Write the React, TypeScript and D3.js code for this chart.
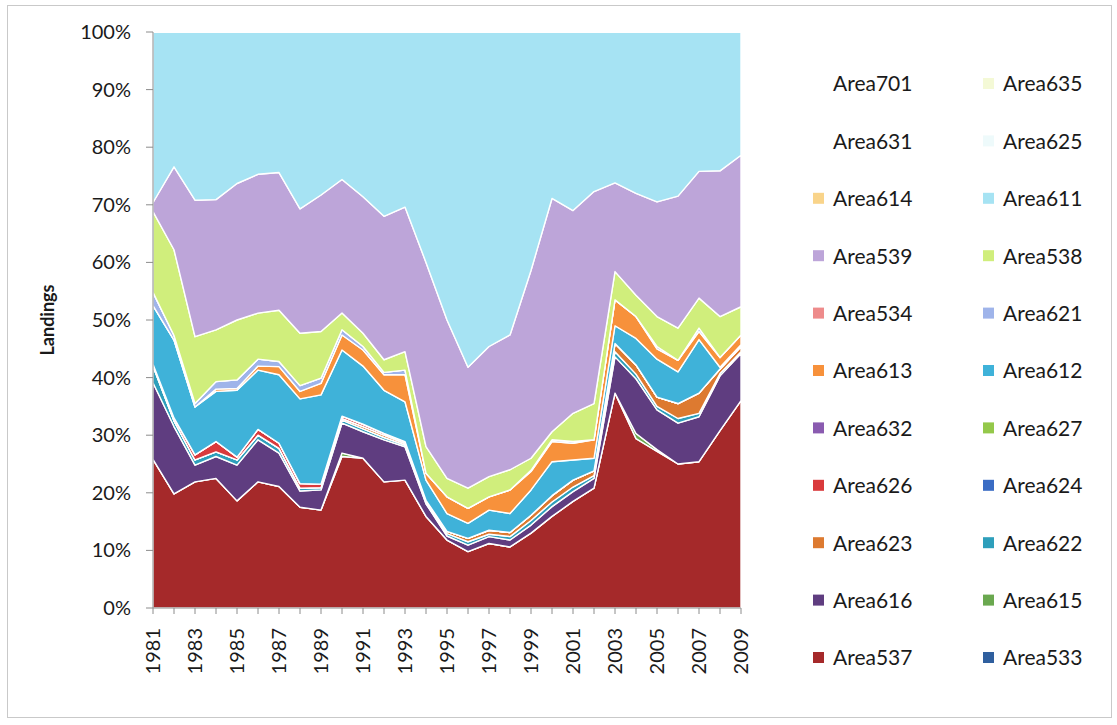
import React from "react";
import * as d3 from "d3";

// ---------- data (share of landings, %) ----------
const years = [1981, 1982, 1983, 1984, 1985, 1986, 1987, 1988, 1989, 1990, 1991, 1992, 1993, 1994, 1995, 1996, 1997, 1998, 1999, 2000, 2001, 2002, 2003, 2004, 2005, 2006, 2007, 2008, 2009];

const a533 = [0, 0, 0, 0, 0, 0, 0, 0, 0, 0, 0, 0, 0, 0, 0, 0, 0, 0, 0, 0, 0, 0, 0, 0, 0, 0, 0, 0, 0];
const a537 = [25.8, 19.8, 21.9, 22.5, 18.6, 21.9, 21.1, 17.5, 17.0, 26.3, 26.0, 21.9, 22.2, 15.9, 11.8, 9.8, 11.2, 10.6, 13.0, 15.9, 18.5, 20.8, 37.3, 29.4, 27.2, 25.0, 25.4, 30.8, 36.0];
const a615 = [0, 0, 0, 0, 0, 0, 0, 0, 0, 0.6, 0, 0, 0, 0, 0, 0, 0, 0, 0, 0, 0, 0, 0, 0.9, 0.3, 0, 0, 0, 0];
const a616 = [13.3, 11.7, 2.9, 3.8, 6.2, 7.3, 5.8, 2.8, 3.5, 5.2, 4.6, 7.3, 5.8, 2.2, 0.7, 1.1, 1.2, 1.2, 1.4, 1.7, 1.7, 1.7, 6.3, 9.5, 6.9, 7.1, 7.8, 9.5, 8.2];
const a622 = [2.9, 1.0, 0.9, 0.8, 0.9, 0.8, 0.8, 0.5, 0.4, 0.5, 0.5, 0.4, 0.3, 0.3, 0.4, 0.6, 0.4, 0.6, 0.8, 0.8, 0.8, 0.5, 0.9, 0.8, 0.6, 0.8, 0.6, 0.4, 0.3];
const a623 = [0, 0, 0, 0, 0, 0, 0, 0, 0, 0.3, 0.4, 0.4, 0.3, 0.3, 0.4, 0.6, 0.7, 0.7, 0.9, 1.1, 1.2, 0.8, 1.4, 1.6, 1.6, 2.6, 3.5, 0.8, 0.9];
const a624 = [0, 0, 0, 0, 0, 0, 0, 0, 0, 0, 0, 0, 0, 0, 0, 0, 0, 0, 0, 0, 0, 0, 0, 0, 0, 0, 0, 0, 0];
const a626 = [0.3, 0.5, 0.9, 1.8, 0.5, 1.0, 0.9, 0.8, 0.6, 0.4, 0.4, 0.3, 0.3, 0, 0, 0, 0, 0, 0, 0, 0, 0, 0, 0, 0, 0, 0, 0, 0];
const a627 = [0, 0, 0, 0, 0, 0, 0, 0, 0, 0, 0, 0, 0, 0, 0, 0, 0, 0, 0, 0, 0, 0, 0, 0, 0, 0, 0, 0, 0];
const a632 = [0, 0, 0, 0, 0, 0, 0, 0, 0, 0, 0, 0, 0, 0, 0, 0, 0, 0, 0, 0, 0, 0, 0, 0, 0, 0, 0, 0, 0];
const a612 = [10.2, 13.5, 8.3, 8.7, 11.6, 10.3, 11.9, 14.7, 15.5, 11.5, 10.1, 7.5, 6.9, 3.5, 3.1, 2.6, 3.5, 3.3, 4.4, 5.9, 3.5, 2.2, 3.1, 4.6, 6.6, 5.5, 9.3, 0.3, 0.3];
const a613 = [0, 0, 0, 0.4, 0.3, 0.7, 1.4, 1.3, 2.0, 2.6, 2.8, 2.7, 4.7, 1.2, 2.9, 2.6, 2.3, 4.1, 3.2, 3.5, 2.9, 3.2, 4.5, 3.8, 1.8, 2.0, 1.4, 1.7, 1.7];
const a621 = [2.3, 0.8, 0.6, 1.3, 1.5, 1.2, 0.9, 1.0, 0.9, 0.9, 0.6, 0.4, 0.8, 0, 0, 0, 0, 0, 0.2, 0.3, 0.3, 0, 0, 0, 0.4, 0, 0.6, 0, 0];
const a534 = [0, 0, 0, 0, 0, 0, 0, 0, 0, 0, 0, 0, 0, 0, 0, 0, 0, 0, 0, 0, 0, 0, 0, 0, 0, 0, 0, 0, 0];
const a538 = [14.0, 14.9, 11.6, 9.0, 10.4, 8.0, 8.9, 9.1, 8.1, 2.9, 2.3, 2.2, 3.2, 4.6, 3.2, 3.5, 3.5, 3.5, 2.1, 1.4, 4.9, 6.3, 4.9, 3.7, 5.2, 5.6, 5.2, 7.1, 4.9];
const a539 = [1.6, 14.4, 23.7, 22.6, 23.7, 24.1, 23.9, 21.6, 23.7, 23.2, 23.7, 24.9, 25.1, 32.0, 27.5, 21.0, 22.6, 23.4, 32.6, 40.5, 35.2, 36.8, 15.4, 17.7, 19.9, 22.9, 22.0, 25.3, 26.3];
const a611 = [29.6, 23.4, 29.2, 29.1, 26.3, 24.7, 24.4, 30.7, 28.3, 25.6, 28.6, 32.0, 30.4, 40.0, 50.0, 58.2, 54.6, 52.6, 41.4, 28.9, 31.0, 27.7, 26.2, 28.0, 29.5, 28.5, 24.2, 24.1, 21.4];
const a614 = [0, 0, 0, 0, 0, 0, 0, 0, 0, 0, 0, 0, 0, 0, 0, 0, 0, 0, 0, 0, 0, 0, 0, 0, 0, 0, 0, 0, 0];
const a625 = [0, 0, 0, 0, 0, 0, 0, 0, 0, 0, 0, 0, 0, 0, 0, 0, 0, 0, 0, 0, 0, 0, 0, 0, 0, 0, 0, 0, 0];
const a631 = [0, 0, 0, 0, 0, 0, 0, 0, 0, 0, 0, 0, 0, 0, 0, 0, 0, 0, 0, 0, 0, 0, 0, 0, 0, 0, 0, 0, 0];
const a635 = [0, 0, 0, 0, 0, 0, 0, 0, 0, 0, 0, 0, 0, 0, 0, 0, 0, 0, 0, 0, 0, 0, 0, 0, 0, 0, 0, 0, 0];
const a701 = [0, 0, 0, 0, 0, 0, 0, 0, 0, 0, 0, 0, 0, 0, 0, 0, 0, 0, 0, 0, 0, 0, 0, 0, 0, 0, 0, 0, 0];

// stacking order, bottom to top
const seriesNames = ["Area533", "Area537", "Area615", "Area616", "Area622", "Area623", "Area624", "Area626", "Area627", "Area632", "Area612", "Area613", "Area621", "Area534", "Area538", "Area539", "Area611", "Area614", "Area625", "Area631", "Area635", "Area701"];
const seriesValues = [a533, a537, a615, a616, a622, a623, a624, a626, a627, a632, a612, a613, a621, a534, a538, a539, a611, a614, a625, a631, a635, a701];
const seriesColors = ["#2f5f9e", "#a5292a", "#6aa84f", "#5f3d80", "#2e9fbb", "#dd7a30", "#3a6cc4", "#d93a3c", "#94c84a", "#8a5bb0", "#3fb2d9", "#f7913b", "#9fb4ea", "#ee8b8b", "#d0ee7c", "#bda5d9", "#a6e3f3", "#f9d48a", "#eefafb", "#ffffff", "#f4f9d6", "#ffffff"];

// legend (row-wise, two columns)
const legendOrder = ["Area701", "Area635", "Area631", "Area625", "Area614", "Area611", "Area539", "Area538", "Area534", "Area621", "Area613", "Area612", "Area632", "Area627", "Area626", "Area624", "Area623", "Area622", "Area616", "Area615", "Area537", "Area533"];

const yTickValues = [0, 0.1, 0.2, 0.3, 0.4, 0.5, 0.6, 0.7, 0.8, 0.9, 1];
const xLabelYears = [1981, 1983, 1985, 1987, 1989, 1991, 1993, 1995, 1997, 1999, 2001, 2003, 2005, 2007, 2009];

const FONT = "Lato, 'Open Sans', sans-serif";

export default function App() {
  const W = 1117, H = 725;
  const x = d3.scaleLinear().domain([1981, 2009]).range([153, 741]);
  const y = d3.scaleLinear().domain([0, 1]).range([608, 32]);

  const rows = years.map((yr, i) => {
    const r: any = { year: yr };
    seriesNames.forEach((n, k) => { r[n] = seriesValues[k][i]; });
    return r;
  });
  const stacked = d3.stack().keys(seriesNames).offset(d3.stackOffsetExpand)(rows as any);
  const area = d3.area<any>()
    .x((d) => x(d.data.year))
    .y0((d) => y(d[0]))
    .y1((d) => y(d[1]));

  const colorOf = (n: string) => seriesColors[seriesNames.indexOf(n)];

  return (
    <svg width={W} height={H} style={{ position: "absolute", left: 0, top: 0, background: "#fff" }}>
      <rect x={7.5} y={5.5} width={1104} height={712} fill="none" stroke="#c9c9c9" strokeWidth={1} />
      {/* areas */}
      <g>
        {stacked.map((s, k) => (
          <path key={seriesNames[k]} d={area(s as any) || ""} fill={seriesColors[k]} stroke="#ffffff" strokeWidth={1.4} strokeLinejoin="round" />
        ))}
      </g>
      {/* y axis */}
      <line x1={153} x2={153} y1={32} y2={608} stroke="#8c8c8c" strokeWidth={1} />
      {yTickValues.map((t) => (
        <g key={t}>
          <line x1={146} x2={153} y1={y(t)} y2={y(t)} stroke="#8c8c8c" />
          <text x={131} y={y(t)} dy="0.35em" textAnchor="end" fontFamily={FONT} fontSize={20} fill="#1a1a1a">{Math.round(t * 100) + "%"}</text>
        </g>
      ))}
      {/* x axis */}
      <line x1={153} x2={741} y1={608} y2={608} stroke="#8c8c8c" strokeWidth={1} />
      {years.map((yr) => (
        <line key={yr} x1={x(yr)} x2={x(yr)} y1={608} y2={614} stroke="#8c8c8c" />
      ))}
      {xLabelYears.map((yr) => (
        <text key={yr} transform={`translate(${x(yr)},${628}) rotate(-90)`} dy="0.35em" textAnchor="end" fontFamily={FONT} fontSize={20} fill="#1a1a1a">{yr}</text>
      ))}
      {/* y title */}
      <text transform="translate(48,320) rotate(-90)" dy="0.35em" textAnchor="middle" fontFamily={FONT} fontSize={18} fontWeight="bold" fill="#1a1a1a">Landings</text>
      {/* legend */}
      {legendOrder.map((n, i) => {
        const col = i % 2;
        const row = Math.floor(i / 2);
        const lx = col === 0 ? 813 : 983;
        const ly = 84 + row * 57.4;
        return (
          <g key={n}>
            <rect x={lx} y={ly - 6} width={11} height={11} fill={colorOf(n)} />
            <text x={lx + 20} y={ly} dy="0.35em" fontFamily={FONT} fontSize={21} fill="#1a1a1a">{n}</text>
          </g>
        );
      })}
    </svg>
  );
}
